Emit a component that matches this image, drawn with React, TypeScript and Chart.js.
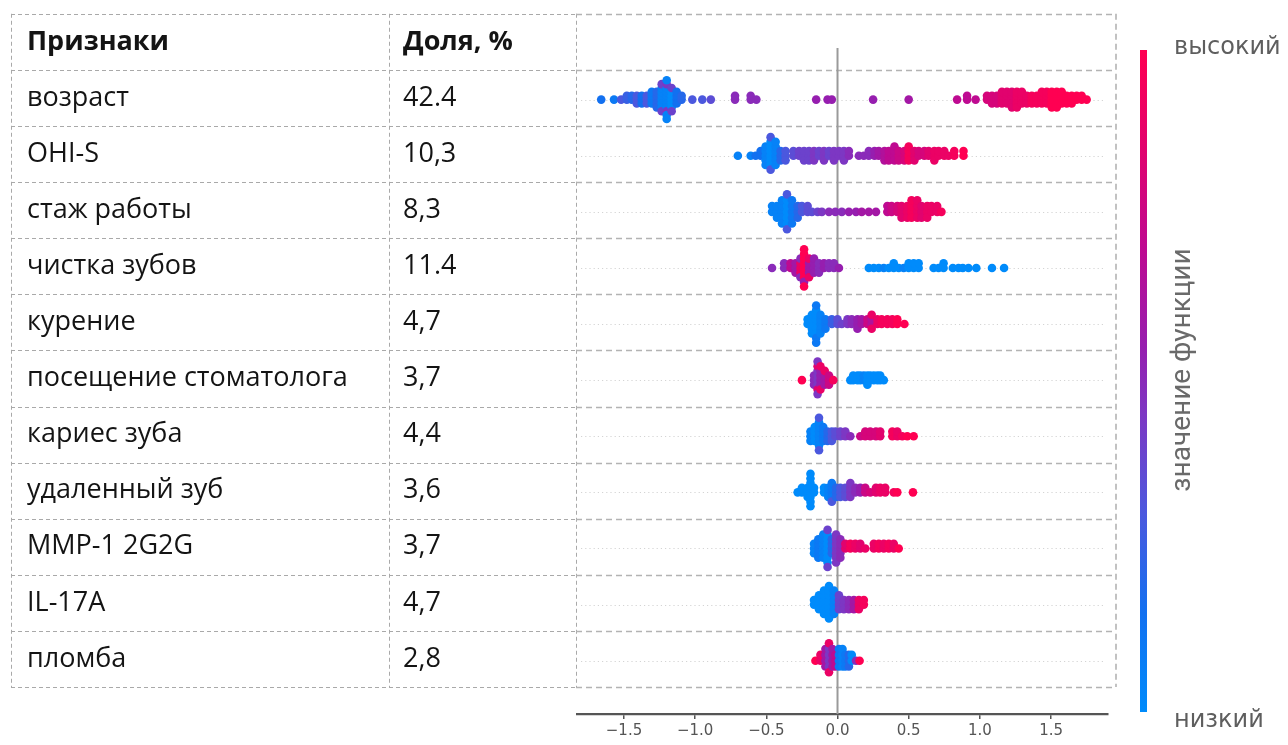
import React, { useEffect, useRef } from "react";
import { Chart, registerables } from "chart.js";

Chart.register(...registerables);

type Pt = [number, number, number]; // [SHAP value, feature value 0..1, number of samples]

const features = [
  "возраст",
  "OHI-S",
  "стаж работы",
  "чистка зубов",
  "курение",
  "посещение стоматолога",
  "кариес зуба",
  "удаленный зуб",
  "MMP-1 2G2G",
  "IL-17A",
  "пломба",
];
const shares = ["42.4", "10,3", "8,3", "11.4", "4,7", "3,7", "4,4", "3,6", "3,7", "4,7", "2,8"];
const headers = ["Признаки", "Доля, %"];
const xTicks = [-1.5, -1.0, -0.5, 0, 0.5, 1.0, 1.5];
const colorbarHigh = "высокий";
const colorbarLow = "низкий";
const colorbarTitle = "значение функции";

const vozrast: Pt[] = [
  [-1.66, 0.15, 1], [-1.57, 0.1, 1], [-1.52, 0.3, 1], [-1.48, 0.25, 2], [-1.445, 0.2, 2],
  [-1.41, 0.3, 3], [-1.375, 0.15, 3], [-1.34, 0.3, 3], [-1.305, 0.1, 4], [-1.27, 0.2, 5],
  [-1.235, 0.05, 6], [-1.235, 0.4, 2], [-1.2, 0.05, 6], [-1.2, 0.45, 2], [-1.2, 0.05, 3],
  [-1.165, 0.0, 5], [-1.165, 0.4, 2], [-1.13, 0.15, 4], [-1.095, 0.2, 2], [-1.02, 0.3, 1],
  [-0.95, 0.3, 1], [-0.89, 0.35, 1], [-0.72, 0.5, 2], [-0.61, 0.5, 2], [-0.57, 0.5, 1],
  [-0.15, 0.55, 1], [-0.07, 0.55, 1], [-0.04, 0.55, 1], [0.25, 0.55, 1], [0.5, 0.6, 1],
  [0.84, 0.7, 1], [0.91, 0.7, 2], [0.97, 0.7, 1], [1.05, 0.8, 2], [1.085, 0.8, 3],
  [1.12, 0.8, 3], [1.155, 0.85, 4], [1.19, 0.85, 4], [1.225, 0.85, 5], [1.26, 0.9, 5],
  [1.295, 0.9, 4], [1.33, 0.9, 3], [1.365, 0.95, 3], [1.4, 0.95, 3], [1.435, 0.95, 4],
  [1.47, 0.95, 4], [1.505, 1, 5], [1.54, 1, 5], [1.575, 1, 4], [1.61, 1, 3],
  [1.645, 1, 3], [1.68, 1, 2], [1.715, 1, 2], [1.75, 1, 1],
];
const ohis: Pt[] = [
  [-0.7, 0.05, 1], [-0.61, 0.05, 1], [-0.575, 0.15, 1], [-0.54, 0.15, 2], [-0.505, 0.05, 5],
  [-0.47, 0.0, 6], [-0.47, 0.3, 2], [-0.435, 0.05, 6], [-0.4, 0.2, 3], [-0.365, 0.3, 3],
  [-0.31, 0.35, 2], [-0.27, 0.4, 2], [-0.235, 0.4, 3], [-0.2, 0.4, 3], [-0.165, 0.45, 3],
  [-0.13, 0.4, 2], [-0.095, 0.45, 3], [-0.06, 0.4, 2], [-0.025, 0.45, 3], [0.01, 0.45, 2],
  [0.045, 0.45, 3], [0.08, 0.5, 2], [0.15, 0.5, 1], [0.185, 0.5, 1], [0.22, 0.5, 2],
  [0.26, 0.55, 2], [0.29, 0.6, 2], [0.33, 0.65, 3], [0.36, 0.7, 3], [0.4, 0.7, 4],
  [0.43, 0.75, 3], [0.47, 0.8, 3], [0.5, 0.95, 4], [0.54, 0.85, 3], [0.57, 0.8, 2],
  [0.61, 0.8, 2], [0.64, 0.85, 2], [0.68, 0.9, 3], [0.71, 0.9, 2], [0.75, 0.9, 2],
  [0.78, 0.9, 1], [0.82, 0.95, 2], [0.885, 1, 2],
];
const staj: Pt[] = [
  [-0.46, 0.05, 2], [-0.425, 0.05, 3], [-0.39, 0.05, 5], [-0.355, 0.0, 5], [-0.355, 0.3, 2],
  [-0.32, 0.1, 5], [-0.28, 0.2, 3], [-0.25, 0.3, 2], [-0.21, 0.35, 2], [-0.18, 0.35, 1],
  [-0.14, 0.4, 1], [-0.11, 0.45, 1], [-0.06, 0.5, 1], [-0.015, 0.5, 1], [0.03, 0.5, 1],
  [0.08, 0.55, 1], [0.13, 0.55, 1], [0.17, 0.6, 1], [0.22, 0.6, 1], [0.27, 0.6, 1],
  [0.35, 0.7, 2], [0.38, 0.75, 2], [0.42, 0.8, 2], [0.45, 0.85, 3], [0.49, 0.9, 3],
  [0.52, 0.95, 4], [0.56, 0.9, 4], [0.59, 0.85, 3], [0.63, 0.9, 3], [0.66, 0.9, 2],
  [0.7, 0.9, 2], [0.73, 0.95, 1],
];
const chistka: Pt[] = [
  [-0.46, 0.5, 1], [-0.375, 0.5, 2], [-0.33, 0.7, 2], [-0.295, 0.6, 3], [-0.26, 0.9, 3],
  [-0.26, 0.5, 2], [-0.235, 1, 6], [-0.235, 0.55, 1], [-0.235, 1, 2], [-0.2, 0.6, 3],
  [-0.2, 0.9, 2], [-0.165, 0.55, 4], [-0.13, 0.5, 3], [-0.095, 0.55, 2], [-0.06, 0.5, 2],
  [-0.025, 0.5, 2], [0.01, 0.55, 1], [0.22, 0, 1], [0.255, 0, 1], [0.29, 0, 1],
  [0.325, 0.05, 1], [0.36, 0, 1], [0.395, 0, 2], [0.43, 0, 1], [0.465, 0.05, 1],
  [0.5, 0, 2], [0.535, 0, 2], [0.57, 0, 2], [0.675, 0, 1], [0.71, 0, 1],
  [0.745, 0, 2], [0.81, 0, 1], [0.85, 0, 1], [0.88, 0, 1], [0.92, 0, 1],
  [0.975, 0, 1], [1.085, 0, 1], [1.17, 0, 1],
];
const kurenie: Pt[] = [
  [-0.21, 0, 2], [-0.18, 0, 5], [-0.15, 0, 6], [-0.15, 0.1, 3], [-0.12, 0.05, 5],
  [-0.085, 0.1, 3], [-0.04, 0.25, 2], [0.0, 0.35, 2], [0.03, 0.4, 1], [0.07, 0.45, 2],
  [0.1, 0.5, 2], [0.14, 0.55, 3], [0.17, 0.6, 2], [0.21, 0.75, 2], [0.24, 0.65, 2],
  [0.24, 0.9, 2], [0.28, 0.9, 2], [0.31, 0.95, 2], [0.35, 0.95, 2], [0.385, 0.95, 2],
  [0.42, 1, 2], [0.47, 1, 1],
];
const poseshenie: Pt[] = [
  [-0.25, 1, 1], [-0.165, 0.5, 3], [-0.14, 0.45, 4], [-0.14, 0.85, 2], [-0.14, 0.45, 2],
  [-0.12, 0.55, 4], [-0.12, 0.9, 2], [-0.09, 0.6, 3], [-0.09, 0.9, 1], [-0.06, 0.75, 3],
  [-0.03, 0.95, 1], [0.09, 0, 1], [0.11, 0, 2], [0.14, 0, 2], [0.16, 0, 2],
  [0.185, 0.05, 2], [0.21, 0, 3], [0.23, 0, 2], [0.255, 0, 2], [0.28, 0, 2],
  [0.3, 0, 2], [0.325, 0, 1],
];
const karies: Pt[] = [
  [-0.19, 0.05, 3], [-0.16, 0, 4], [-0.13, 0.05, 6], [-0.13, 0.3, 2], [-0.1, 0.1, 4],
  [-0.07, 0.2, 3], [-0.04, 0.3, 3], [-0.015, 0.35, 2], [0.02, 0.4, 2], [0.055, 0.45, 2],
  [0.09, 0.5, 1], [0.16, 0.75, 1], [0.195, 0.8, 2], [0.23, 0.8, 2], [0.27, 0.8, 2],
  [0.3, 0.85, 2], [0.385, 0.95, 2], [0.42, 0.9, 2], [0.455, 0.95, 1], [0.49, 1, 1],
  [0.535, 1, 1],
];
const udalenny: Pt[] = [
  [-0.28, 0, 1], [-0.25, 0, 2], [-0.21, 0, 3], [-0.19, 0, 8], [-0.165, 0, 2],
  [-0.095, 0, 2], [-0.065, 0.05, 3], [-0.04, 0.1, 4], [-0.04, 0.3, 1], [-0.01, 0.2, 3],
  [0.02, 0.3, 3], [0.055, 0.35, 3], [0.09, 0.45, 4], [0.125, 0.5, 2], [0.16, 0.55, 2],
  [0.195, 0.75, 2], [0.23, 0.8, 1], [0.27, 0.85, 2], [0.3, 0.9, 2], [0.335, 0.9, 2],
  [0.395, 0.95, 1], [0.42, 1, 1], [0.53, 1, 1],
];
const mmp: Pt[] = [
  [-0.165, 0.05, 3], [-0.135, 0.1, 5], [-0.1, 0.05, 6], [-0.07, 0, 7], [-0.07, 0.4, 2],
  [-0.04, 0.2, 4], [-0.01, 0.45, 7], [0.02, 0.5, 5], [0.055, 0.85, 2], [0.09, 0.95, 2],
  [0.125, 0.9, 2], [0.16, 0.85, 2], [0.195, 0.9, 1], [0.255, 0.9, 2], [0.29, 0.95, 2],
  [0.325, 0.9, 2], [0.36, 0.95, 2], [0.395, 0.9, 2], [0.43, 1, 1],
];
const il17: Pt[] = [
  [-0.165, 0, 2], [-0.13, 0, 4], [-0.095, 0, 6], [-0.06, 0, 8], [-0.025, 0.05, 6],
  [0.01, 0.4, 4], [0.045, 0.45, 3], [0.08, 0.5, 3], [0.115, 0.6, 3], [0.15, 0.9, 3],
  [0.185, 0.95, 2],
];
const plomba: Pt[] = [
  [-0.155, 1, 1], [-0.12, 0.9, 2], [-0.085, 0.6, 4], [-0.06, 0.45, 4], [-0.06, 0.9, 2],
  [-0.035, 0.6, 4], [-0.015, 0.7, 3], [0.01, 0.1, 4], [0.035, 0.05, 4], [0.055, 0.1, 3],
  [0.08, 0.2, 3], [0.1, 0, 2], [0.13, 0.5, 1], [0.155, 1, 1],
];

const rows: Pt[][] = [vozrast, ohis, staj, chistka, kurenie, poseshenie, karies, udalenny, mmp, il17, plomba];

// SHAP-like red/blue colormap stops
const cmap: [number, number[]][] = [
  [0.0, [0, 139, 251]],
  [0.15, [18, 112, 240]],
  [0.3, [75, 88, 222]],
  [0.45, [125, 55, 195]],
  [0.55, [150, 30, 175]],
  [0.7, [190, 10, 145]],
  [0.85, [225, 3, 110]],
  [1.0, [255, 0, 82]],
];

function colorFor(v: number): string {
  const t = Math.max(0, Math.min(1, v));
  for (let i = 1; i < cmap.length; i++) {
    const [t1, c1] = cmap[i];
    const [t0, c0] = cmap[i - 1];
    if (t <= t1) {
      const f = (t - t0) / (t1 - t0 || 1);
      const c = c0.map((a, k) => Math.round(a + (c1[k] - a) * f));
      return `rgb(${c[0]},${c[1]},${c[2]})`;
    }
  }
  const c = cmap[cmap.length - 1][1];
  return `rgb(${c[0]},${c[1]},${c[2]})`;
}

// SHAP beeswarm vertical layout (binning + alternating layers)
function beeswarm(xs: number[], rowHeight: number): number[] {
  const N = xs.length;
  const mn = Math.min(...xs);
  const mx = Math.max(...xs);
  const nbins = 100;
  const quant = xs.map((v) => Math.round((nbins * (v - mn)) / (mx - mn + 1e-8)));
  const inds = xs.map((_, i) => i).sort((a, b) => quant[a] - quant[b] || a - b);
  const ys = new Array(N).fill(0);
  let layer = 0;
  let last = -1;
  for (const ind of inds) {
    if (quant[ind] !== last) layer = 0;
    ys[ind] = Math.ceil(layer / 2) * ((layer % 2) * 2 - 1);
    layer++;
    last = quant[ind];
  }
  const m = Math.max(...ys.map((y) => y + 1));
  return ys.map((y) => y * 0.9 * (rowHeight / m));
}

export default function App() {
  const ref = useRef<HTMLCanvasElement | null>(null);

  useEffect(() => {
    if (!ref.current) return;
    const points: { x: number; y: number }[] = [];
    const colors: string[] = [];
    rows.forEach((row, r) => {
      const xs: number[] = [];
      const cs: number[] = [];
      row.forEach(([x, c, n]) => {
        for (let k = 0; k < n; k++) {
          xs.push(x);
          cs.push(c);
        }
      });
      const offs = beeswarm(xs, 0.46);
      xs.forEach((x, i) => {
        points.push({ x, y: r + 0.03 - offs[i] });
        colors.push(colorFor(cs[i]));
      });
    });

    const TL = 11, TC1 = 389, TC2 = 576, TR = 1116;

    const decor = {
      id: "decor",
      beforeDatasetsDraw(chart: any) {
        const { ctx, chartArea: a, scales } = chart;
        const y = scales.y;
        const x = scales.x;
        ctx.save();
        const top = y.getPixelForValue(-1.5);
        const bottom = y.getPixelForValue(features.length - 0.5);
        const hs: number[] = [];
        for (let i = -1; i <= features.length; i++) hs.push(Math.round(y.getPixelForValue(i - 0.5)) + 0.5);

        // table part (thin dashes)
        ctx.setLineDash([4, 3]);
        ctx.lineWidth = 1;
        ctx.strokeStyle = "#a9a9a9";
        hs.forEach((hy) => {
          ctx.beginPath();
          ctx.moveTo(TL, hy);
          ctx.lineTo(TC2, hy);
          ctx.stroke();
        });
        [TL, TC1, TC2].forEach((vx) => {
          ctx.beginPath();
          ctx.moveTo(vx + 0.5, top);
          ctx.lineTo(vx + 0.5, bottom);
          ctx.stroke();
        });
        // plot part (heavier dashes)
        ctx.setLineDash([6, 4]);
        ctx.lineWidth = 1.6;
        ctx.strokeStyle = "#b3b3b3";
        hs.forEach((hy) => {
          ctx.beginPath();
          ctx.moveTo(TC2, hy);
          ctx.lineTo(TR, hy);
          ctx.stroke();
        });
        ctx.beginPath();
        ctx.moveTo(TR, top);
        ctx.lineTo(TR, bottom);
        ctx.stroke();

        // row guide dotted lines
        ctx.setLineDash([1.2, 3]);
        ctx.lineWidth = 1;
        ctx.strokeStyle = "#d4d4d4";
        features.forEach((_, r) => {
          const py = Math.round(y.getPixelForValue(r + 0.03)) + 0.5;
          ctx.beginPath();
          ctx.moveTo(a.left + 4, py);
          ctx.lineTo(a.right - 4, py);
          ctx.stroke();
        });

        // zero line
        ctx.setLineDash([]);
        ctx.strokeStyle = "#9a9a9a";
        ctx.lineWidth = 2;
        const x0 = x.getPixelForValue(0);
        ctx.beginPath();
        ctx.moveTo(x0, a.top);
        ctx.lineTo(x0, a.bottom);
        ctx.stroke();
        ctx.restore();
      },
      afterDraw(chart: any) {
        const { ctx, chartArea: a, scales } = chart;
        const y = scales.y;
        ctx.save();
        ctx.textBaseline = "middle";
        ctx.textAlign = "left";
        ctx.fillStyle = "#141414";
        ctx.font = 'bold 27px "Open Sans"';
        const hy = y.getPixelForValue(-1);
        ctx.fillText(headers[0], 27, hy);
        ctx.fillText(headers[1], 403, hy);
        ctx.font = '27px "Open Sans"';
        features.forEach((f, r) => {
          const py = y.getPixelForValue(r);
          ctx.fillText(f, 27, py);
          ctx.fillText(shares[r], 403, py);
        });

        // colorbar
        const cbL = 1140, cbW = 7;
        const cbT = a.top + 2, cbB = a.bottom - 2;
        const g = ctx.createLinearGradient(0, cbB, 0, cbT);
        cmap.forEach(([t, c]) => g.addColorStop(t, `rgb(${c[0]},${c[1]},${c[2]})`));
        ctx.fillStyle = g;
        ctx.fillRect(cbL, cbT, cbW, cbB - cbT);

        ctx.fillStyle = "#5e5e5e";
        ctx.font = '24px "DejaVu Sans"';
        ctx.fillText(colorbarHigh, 1174, cbT - 2);
        ctx.fillText(colorbarLow, 1174, cbB + 9);

        ctx.save();
        ctx.translate(1183, 370);
        ctx.rotate(-Math.PI / 2);
        ctx.textAlign = "center";
        ctx.fillStyle = "#6a6a6a";
        ctx.font = '28px "Roboto"';
        ctx.fillText(colorbarTitle, 0, 0);
        ctx.restore();
        ctx.restore();
      },
    };

    const chart = new Chart(ref.current, {
      type: "scatter",
      data: {
        datasets: [
          {
            data: points,
            backgroundColor: colors,
            borderWidth: 0,
            pointRadius: 4.3,
            pointHoverRadius: 4.3,
          },
        ],
      },
      options: {
        animation: false,
        responsive: false,
        events: [],
        layout: { padding: { left: 577, right: 180, top: 48, bottom: 0 } },
        plugins: { legend: { display: false }, tooltip: { enabled: false } },
        scales: {
          x: {
            type: "linear",
            min: -1.83,
            max: 1.9,
            position: "bottom",
            afterFit: (s: any) => {
              s.height = 31;
            },
            afterBuildTicks: (s: any) => {
              s.ticks = xTicks.map((v) => ({ value: v }));
            },
            grid: {
              display: true,
              drawOnChartArea: false,
              drawTicks: true,
              tickLength: 5,
              color: "#555",
              lineWidth: 1.5,
            },
            border: { display: true, color: "#555", width: 2.2 },
            ticks: {
              includeBounds: false,
              color: "#555",
              padding: 3,
              font: { family: "DejaVu Sans", size: 15 },
              callback: (v: any) => {
                const n = Number(v);
                return (n < 0 ? "\u2212" : "") + Math.abs(n).toFixed(1);
              },
            },
          },
          y: {
            type: "linear",
            display: false,
            reverse: true,
            min: -0.89,
            max: 10.98,
          },
        },
      },
      plugins: [decor],
    });
    return () => chart.destroy();
  }, []);

  return (
    <div style={{ position: "absolute", left: 0, top: 0, width: 1288, height: 745, background: "#fff" }}>
      <canvas ref={ref} width={1288} height={745} style={{ display: "block", width: 1288, height: 745 }} />
    </div>
  );
}
